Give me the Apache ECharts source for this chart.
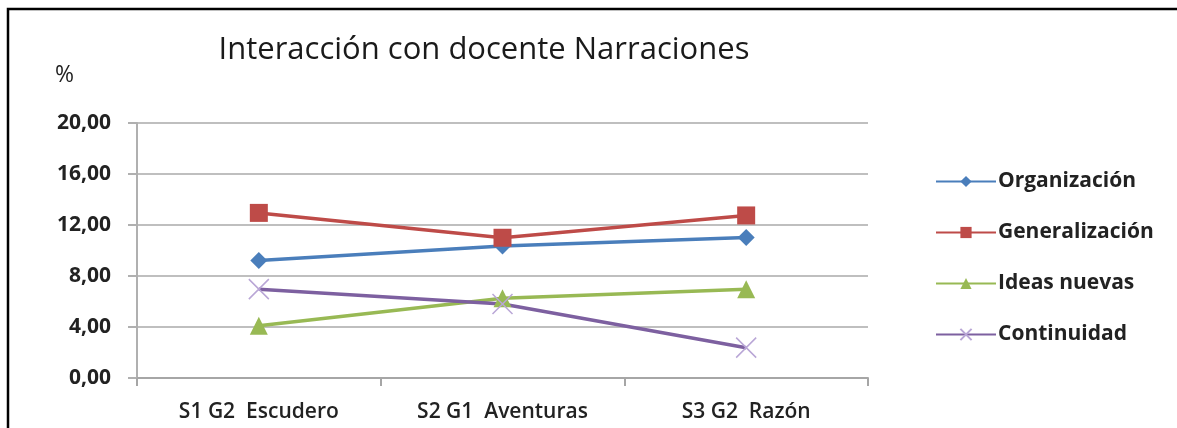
<!DOCTYPE html>
<html>
<head>
<meta charset="utf-8">
<script src="https://cdn.jsdelivr.net/npm/echarts@6/dist/echarts.min.js"></script>
<style>
  html, body { margin: 0; padding: 0; background: #fff; }
  #chart { width: 1177px; height: 428px; }
</style>
</head>
<body>
<div id="chart"></div>
<script>
        // categorias (sesiones)
        const categorias = ['S1 G2  Escudero', 'S2 G1  Aventuras', 'S3 G2  Razón'];

        // valores en %
        const organizacion = [9.22, 10.35, 11.02];
        const generalizacion = [12.95, 11.0, 12.75];
        const ideasNuevas = [4.1, 6.25, 6.97];
        const continuidad = [6.97, 5.8, 2.38];

        const yTicks = [0, 4, 8, 12, 16, 20];

        const chart = echarts.init(document.getElementById('chart'));

        chart.setOption({
            animation: false,
            title: {
                text: 'Interacción con docente Narraciones',
                left: 479,
                textAlign: 'center',
                top: 30,
                textStyle: {
                    fontFamily: 'Open Sans',
                    fontWeight: 'normal',
                    fontSize: 31,
                    color: '#1a1a1a'
                }
            },
            // marco negro
            graphic: [{
                type: 'rect',
                shape: { x: 8, y: 9, width: 1200, height: 500 },
                style: { fill: 'none', stroke: '#000', lineWidth: 2.5 },
                silent: true
            }, {
                type: 'text',
                left: 55,
                top: 64,
                style: { text: '%', font: '23px "Open Sans"', fill: '#222' }
            }],
            legend: {
                orient: 'vertical',
                left: 935,
                top: 171,
                padding: 0,
                itemGap: 30,
                itemWidth: 60,
                itemHeight: 14,
                textStyle: {
                    fontFamily: 'Open Sans',
                    fontWeight: 'bold',
                    fontSize: 21,
                    color: '#222',
                    padding: [0, 0, 0, -3]
                },
                data: ['Organización', 'Generalización', 'Ideas nuevas', 'Continuidad']
            },
            grid: {
                left: 137,
                right: 309,
                top: 123,
                bottom: 50
            },
            xAxis: {
                type: 'category',
                data: categorias,
                boundaryGap: true,
                axisLine: { lineStyle: { color: '#a6a6a6', width: 2 } },
                axisTick: { show: true, length: 8, lineStyle: { color: '#a6a6a6', width: 2 } },
                axisLabel: {
                    margin: 24,
                    fontFamily: 'Open Sans',
                    fontWeight: 600,
                    fontSize: 21,
                    color: '#222'
                }
            },
            yAxis: {
                type: 'value',
                min: 0,
                max: 20,
                interval: 4,
                axisLine: { show: true, lineStyle: { color: '#b0b0b0', width: 2 } },
                axisTick: { show: true, length: 9, lineStyle: { color: '#b0b0b0', width: 2 } },
                splitLine: { lineStyle: { color: '#bfbfbf', width: 2 } },
                axisLabel: {
                    margin: 26,
                    fontFamily: 'Open Sans',
                    fontWeight: 'bold',
                    fontSize: 21,
                    color: '#222',
                    formatter: v => yTicks.includes(v) ? v.toFixed(2).replace('.', ',') : ''
                }
            },
            series: [{
                name: 'Organización',
                type: 'line',
                data: organizacion,
                symbol: 'diamond',
                symbolSize: 17,
                itemStyle: { color: '#4a7ebb' },
                lineStyle: { color: '#4a7ebb', width: 3.5 }
            }, {
                name: 'Generalización',
                type: 'line',
                data: generalizacion,
                symbol: 'rect',
                symbolSize: 18,
                itemStyle: { color: '#be4b48' },
                lineStyle: { color: '#be4b48', width: 3.5 }
            }, {
                name: 'Ideas nuevas',
                type: 'line',
                data: ideasNuevas,
                symbol: 'triangle',
                symbolSize: 18,
                itemStyle: { color: '#98b954' },
                lineStyle: { color: '#98b954', width: 3.5 }
            }, {
                name: 'Continuidad',
                type: 'line',
                data: continuidad,
                symbol: 'path://M0,0 L10,10 M10,0 L0,10',
                symbolSize: 20,
                itemStyle: { color: 'none', borderColor: '#b9a6d6', borderWidth: 1.5 },
                lineStyle: { color: '#7d60a0', width: 3.5 }
            }]
        });
</script>
</body>
</html>
